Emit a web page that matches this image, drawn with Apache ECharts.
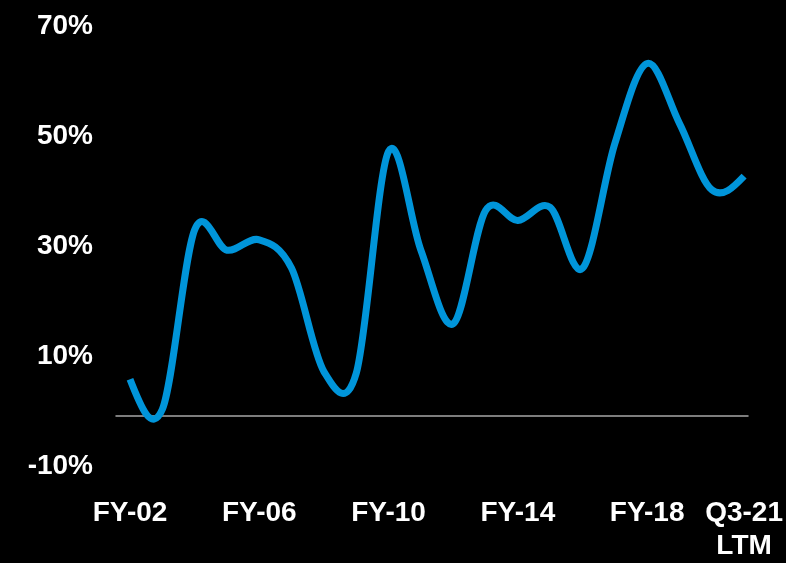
<!DOCTYPE html>
<html>
<head>
<meta charset="utf-8">
<script src="https://cdn.jsdelivr.net/npm/echarts@6/dist/echarts.min.js"></script>
<style>
html,body{margin:0;padding:0;background:#000;}
#chart{width:786px;height:563px;}
</style>
</head>
<body>
<div id="chart"></div>
<script>
const categories = ['FY-02','FY-03','FY-04','FY-05','FY-06','FY-07','FY-08','FY-09','FY-10','FY-11','FY-12','FY-13','FY-14','FY-15','FY-16','FY-17','FY-18','FY-19','FY-20','Q3-21\nLTM'];
const values = [5.8, 0.3, 33.0, 29.3, 31.2, 26.0, 7.2, 6.9, 47.3, 29.3, 15.9, 36.5, 34.7, 37.1, 26.0, 48.7, 63.3, 52.4, 40.3, 42.8];
const shownLabels = ['FY-02','FY-06','FY-10','FY-14','FY-18','Q3-21\nLTM'];
const yTicks = [-10, 10, 30, 50, 70];

const chart = echarts.init(document.getElementById('chart'));
const gridTop = 26.7, gridBottom = 91.3;
const font = '"Liberation Sans", Arial, sans-serif';

// Smooth (Excel-like Catmull-Rom) path through data points, positioned via the axes
function renderSmoothLine(params, api) {
  if (params.dataIndex !== 0) return null;
  const n = values.length;
  const P = [];
  for (let j = 0; j < n; j++) P.push(api.coord([api.value(0, j), api.value(1, j)]));
  const M = new Array(n);
  for (let j = 1; j < n - 1; j++) {
    M[j] = [(P[j + 1][0] - P[j - 1][0]) / 2, (P[j + 1][1] - P[j - 1][1]) / 2];
  }
  M[0] = [1.5 * (P[1][0] - P[0][0]) - M[1][0] / 2, 1.5 * (P[1][1] - P[0][1]) - M[1][1] / 2];
  M[n - 1] = [1.5 * (P[n - 1][0] - P[n - 2][0]) - M[n - 2][0] / 2, 1.5 * (P[n - 1][1] - P[n - 2][1]) - M[n - 2][1] / 2];
  let d = 'M' + P[0][0] + ' ' + P[0][1];
  for (let j = 0; j < n - 1; j++) {
    const c1 = [P[j][0] + M[j][0] / 3, P[j][1] + M[j][1] / 3];
    const c2 = [P[j + 1][0] - M[j + 1][0] / 3, P[j + 1][1] - M[j + 1][1] / 3];
    d += ' C' + c1[0] + ' ' + c1[1] + ' ' + c2[0] + ' ' + c2[1] + ' ' + P[j + 1][0] + ' ' + P[j + 1][1];
  }
  return {
    type: 'path',
    shape: {pathData: d},
    style: {stroke: '#0095da', lineWidth: 7, fill: null, lineCap: 'butt', lineJoin: 'round'}
  };
}

chart.setOption({
  backgroundColor: '#000000',
  animation: false,
  grid: [
    {left: 130, right: 38, top: gridTop, bottom: gridBottom},
    {left: 116, right: 38, top: gridTop, bottom: gridBottom}
  ],
  xAxis: [
    {
      type: 'category', gridIndex: 0, data: categories, boundaryGap: false,
      axisLine: {show: false}, axisTick: {show: false}, splitLine: {show: false},
      axisLabel: {
        color: '#ffffff', fontFamily: font, fontWeight: 'bold', fontSize: 28,
        lineHeight: 33, margin: 31,
        interval: (i, v) => shownLabels.indexOf(v) >= 0
      }
    },
    {
      type: 'value', gridIndex: 1, min: 0, max: 1,
      axisLine: {show: true, onZero: true, lineStyle: {color: '#a6a6a6', width: 1.5}},
      axisTick: {show: false}, axisLabel: {show: false}, splitLine: {show: false}
    }
  ],
  yAxis: [
    {
      type: 'value', gridIndex: 0, min: -10, max: 70, interval: 10,
      axisLine: {show: false}, axisTick: {show: false}, splitLine: {show: false},
      axisLabel: {
        color: '#ffffff', fontFamily: font, fontWeight: 'bold', fontSize: 28, margin: 37,
        formatter: v => yTicks.indexOf(v) >= 0 ? v + '%' : ''
      }
    },
    {
      type: 'value', gridIndex: 1, min: -10, max: 70, interval: 10, show: true,
      axisLine: {show: false}, axisTick: {show: false}, splitLine: {show: false}, axisLabel: {show: false}
    }
  ],
  series: [{
    type: 'custom', xAxisIndex: 0, yAxisIndex: 0,
    data: values.map((v, i) => [i, v]),
    encode: {x: 0, y: 1},
    renderItem: renderSmoothLine,
    clip: false
  }]
});
</script>
</body>
</html>
